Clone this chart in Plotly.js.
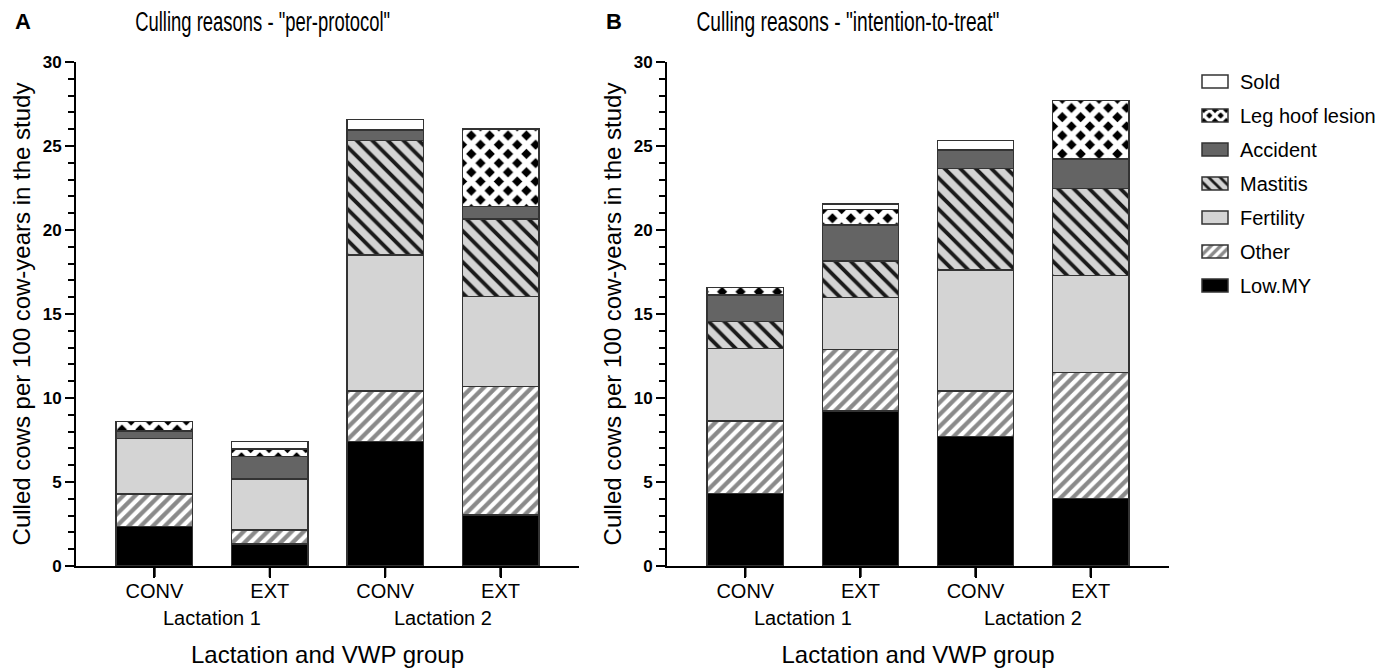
<!DOCTYPE html>
<html>
<head>
<meta charset="utf-8">
<script src="https://cdn.plot.ly/plotly-3.0.1.min.js"></script>
<style>html,body{margin:0;padding:0;background:#fff}#wrap{position:relative;width:1396px;height:672px}#chart{width:1396px;height:672px}#ov{position:absolute;left:0;top:0;width:1396px;height:672px;pointer-events:none;z-index:1000}</style>
</head>
<body>
<div id="wrap"><div id="chart"></div><svg id="ov" xmlns="http://www.w3.org/2000/svg" width="1396" height="672"></svg></div>
<script>
// ---- data ----
const groups = ["CONV", "EXT", "CONV", "EXT"];
const lactations = ["Lactation 1", "Lactation 1", "Lactation 2", "Lactation 2"];
const reasons = ["Low.MY", "Other", "Fertility", "Mastitis", "Accident", "Leg hoof lesion", "Sold"];

// Panel A: per-protocol (culled cows per 100 cow-years)
const lowMY_PP     = [2.35, 1.30, 7.40, 3.04];
const other_PP     = [1.95, 0.83, 3.03, 7.63];
const fertility_PP = [3.30, 3.05, 8.08, 5.36];
const mastitis_PP  = [0.00, 0.00, 6.81, 4.62];
const accident_PP  = [0.45, 1.33, 0.63, 0.74];
const legHoof_PP   = [0.55, 0.45, 0.00, 4.62];
const sold_PP      = [0.00, 0.44, 0.64, 0.00];

// Panel B: intention-to-treat
const lowMY_ITT     = [4.33, 9.24, 7.70, 4.03];
const other_ITT     = [4.30, 3.66, 2.72, 7.48];
const fertility_ITT = [4.33, 3.09, 7.20, 5.77];
const mastitis_ITT  = [1.58, 2.16, 6.05, 5.20];
const accident_ITT  = [1.59, 2.15, 1.09, 1.75];
const legHoof_ITT   = [0.44, 0.93, 0.00, 3.47];
const sold_ITT      = [0.00, 0.32, 0.56, 0.00];

const seriesPP  = [lowMY_PP, other_PP, fertility_PP, mastitis_PP, accident_PP, legHoof_PP, sold_PP];
const seriesITT = [lowMY_ITT, other_ITT, fertility_ITT, mastitis_ITT, accident_ITT, legHoof_ITT, sold_ITT];

// ---- styles ----
const styles = [
  {color: "#000000"},
  {color: "#ffffff", pattern: {shape: "/", fgcolor: "#8a8a8a", bgcolor: "#ffffff", size: 8.5, solidity: 0.5, fillmode: "replace"}},
  {color: "#d4d4d4"},
  {color: "#d4d4d4", pattern: {shape: "\\", fgcolor: "#1a1a1a", bgcolor: "#d4d4d4", size: 11, solidity: 0.35, fillmode: "replace"}},
  {color: "#646464"},
  {color: "#000000", pattern: {shape: "x", fgcolor: "#ffffff", bgcolor: "#000000", size: 13, solidity: 0.68, fillmode: "replace"}},
  {color: "#ffffff"}
];

// category positions (index of each group) and the centre of each lactation
const xpos = groups.map((_, i) => i);
const lactNames = [...new Set(lactations)];
const lactCenters = lactNames.map(L => {
  const idx = xpos.filter(i => lactations[i] === L);
  return idx.reduce((a, b) => a + b, 0) / idx.length;
});

const traces = [];
reasons.forEach((r, i) => {
  const m = {color: styles[i].color, line: {color: "#333333", width: 1.5}};
  if (styles[i].pattern) m.pattern = styles[i].pattern;
  const rank = 100 * (reasons.length - i);
  traces.push({type: "bar", name: r, x: xpos, y: seriesPP[i], xaxis: "x", yaxis: "y",
    marker: m, legendgroup: r, legendrank: rank, showlegend: true, hoverinfo: "name+y"});
  traces.push({type: "bar", name: r, x: xpos, y: seriesITT[i], xaxis: "x2", yaxis: "y2",
    marker: m, legendgroup: r, legendrank: rank, showlegend: false, hoverinfo: "name+y"});
});

const FONT = "Liberation Sans, Arial, Helvetica, sans-serif";

function xax(domain, anchor) {
  return {
    domain: domain, anchor: anchor, type: "linear",
    tickmode: "array", tickvals: xpos, ticktext: groups,
    range: [-0.68, 3.68], showline: true, linecolor: "#000", linewidth: 2,
    ticks: "outside", ticklen: 10, tickwidth: 2, tickcolor: "#000",
    ticklabelstandoff: -4,
    showgrid: false, zeroline: false,
    tickfont: {family: FONT, size: 20, color: "#000"},
    title: {text: "Lactation and VWP group", font: {family: FONT, size: 24, color: "#000"}, standoff: 45}
  };
}
function yax(domain, anchor) {
  return {
    domain: domain, anchor: anchor, range: [0, 30], tickvals: [0, 5, 10, 15, 20, 25, 30],
    showline: true, linecolor: "#000", linewidth: 2,
    ticks: "outside", ticklen: 9, tickwidth: 2, tickcolor: "#000",
    minor: {dtick: 1, ticks: "outside", ticklen: 6, tickwidth: 2, tickcolor: "#000", showgrid: false},
    showgrid: false, zeroline: false,
    tickfont: {family: FONT, size: 17, color: "#000", weight: "bold"},
    title: {text: "Culled cows per 100 cow-years in the study", font: {family: FONT, size: 24, color: "#000"}, standoff: 5}
  };
}

const W = 1396, H = 672;
const yDom = [1 - 566 / H, 1 - 62 / H];

const annotations = [
  {text: "<b>A</b>", xref: "paper", yref: "paper", x: 23 / W, y: 1 - 22 / H, xanchor: "center", yanchor: "middle", showarrow: false, font: {family: FONT, size: 22, color: "#000"}},
  {text: "Culling reasons - \"per-protocol\"", xref: "paper", yref: "paper", x: 262 / W, y: 1 - 22 / H, xanchor: "center", yanchor: "middle", showarrow: false, font: {family: FONT, size: 27, color: "#000"}},
  {text: "<b>B</b>", xref: "paper", yref: "paper", x: 614 / W, y: 1 - 22 / H, xanchor: "center", yanchor: "middle", showarrow: false, font: {family: FONT, size: 22, color: "#000"}},
  {text: "Culling reasons - \"intention-to-treat\"", xref: "paper", yref: "paper", x: 848 / W, y: 1 - 22 / H, xanchor: "center", yanchor: "middle", showarrow: false, font: {family: FONT, size: 27, color: "#000"}}
];
["x", "x2"].forEach(ax => {
  lactNames.forEach((L, j) => {
    annotations.push({text: L, xref: ax, yref: "paper", x: lactCenters[j], y: 1 - 618 / H,
      xanchor: "center", yanchor: "middle", showarrow: false, font: {family: FONT, size: 20, color: "#000"}});
  });
});

// tick marks below the x axes at each category centre (library shapes on the axis scale)
const shapes = [];
["x", "x2"].forEach(ax => {
  xpos.forEach(v => {
    shapes.push({type: "line", xref: ax, yref: "paper", x0: v, x1: v,
      y0: yDom[0] - 1 / H, y1: yDom[0] - 11 / H, layer: "above",
      line: {color: "#000", width: 2}});
  });
});

const layout = {
  width: W, height: H,
  margin: {l: 0, r: 0, t: 0, b: 0},
  paper_bgcolor: "#fff", plot_bgcolor: "#fff",
  barmode: "stack", bargap: 0.337,
  font: {family: FONT, color: "#000"},
  xaxis: xax([76 / W, 579 / W], "y"),
  yaxis: yax(yDom, "x"),
  xaxis2: xax([667 / W, 1169 / W], "y2"),
  yaxis2: yax(yDom, "x2"),
  legend: {
    x: 1190 / W, y: 1 - 62 / H, xanchor: "left", yanchor: "top",
    traceorder: "grouped", font: {family: FONT, size: 20, color: "#000"},
    tracegroupgap: 5, itemwidth: 40, bgcolor: "rgba(0,0,0,0)"
  },
  annotations: annotations,
  shapes: shapes
};

const gd = document.getElementById("chart");
Plotly.newPlot(gd, traces, layout, {displayModeBar: false, staticPlot: true}).then(() => {
  // wider legend swatches, like the reference's rectangles
  document.querySelectorAll(".legend .legendpoints path").forEach(p => {
    p.setAttribute("d", "M13,6.5H-13V-6.5H13Z");
  });
  // condensed title lettering, as in the reference
  const widths = {"per-protocol": 255, "intention-to-treat": 303};
  document.querySelectorAll(".annotation-text").forEach(t => {
    const s = t.textContent;
    Object.keys(widths).forEach(k => {
      if (s.indexOf(k) >= 0) {
        t.setAttribute("textLength", widths[k]);
        t.setAttribute("lengthAdjust", "spacingAndGlyphs");
      }
    });
  });
  // backup tick marks in an overlay, positioned from the axes' own scales
  try {
    const NS = "http://www.w3.org/2000/svg";
    const ov = document.getElementById("ov");
    const fl = gd._fullLayout;
    [["xaxis", "yaxis"], ["xaxis2", "yaxis2"]].forEach(([xn, yn]) => {
      const xa = fl[xn], ya = fl[yn];
      const y0 = ya._offset + ya._length + 1;
      xpos.forEach(v => {
        let px = xa.l2p ? xa._offset + xa.l2p(v)
          : xa._offset + (v - xa.range[0]) / (xa.range[1] - xa.range[0]) * xa._length;
        const ln = document.createElementNS(NS, "line");
        ln.setAttribute("x1", px); ln.setAttribute("x2", px);
        ln.setAttribute("y1", y0); ln.setAttribute("y2", y0 + 10);
        ln.setAttribute("stroke", "#000"); ln.setAttribute("stroke-width", "2");
        ov.appendChild(ln);
      });
    });
  } catch (e) {}
});
</script>
</body>
</html>
